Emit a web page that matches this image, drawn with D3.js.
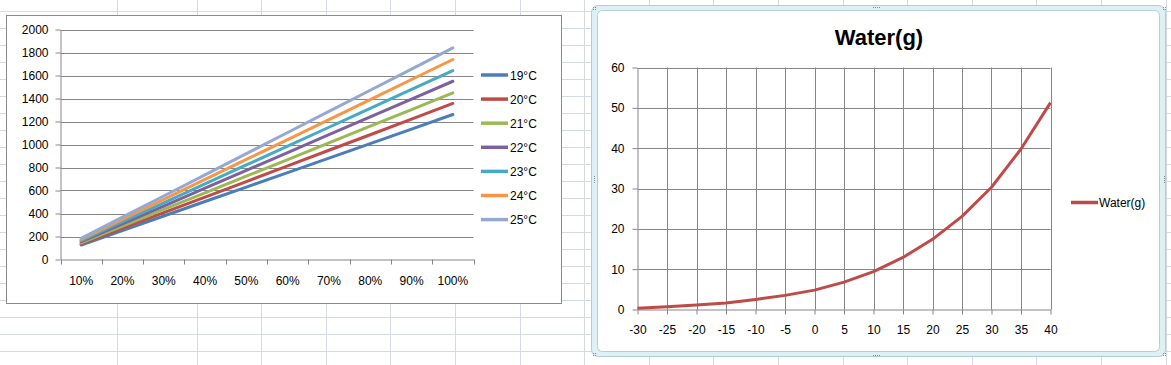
<!DOCTYPE html>
<html>
<head>
<meta charset="utf-8">
<script src="https://cdn.jsdelivr.net/npm/d3@7"></script>
<style>
  body { margin: 0; background: #fff; }
  text { font-family: "Liberation Sans", Arial, sans-serif; fill: #000; }
  .domain { stroke: #868686; }
  .tick line { stroke: #868686; }
</style>
</head>
<body>
<div id="container"></div>
<script>
/* DATA */
const pctLabels = ["10%", "20%", "30%", "40%", "50%", "60%", "70%", "80%", "90%", "100%"];
const tempNames = ["19°C", "20°C", "21°C", "22°C", "23°C", "24°C", "25°C"];
const s19 = [126, 252, 378, 504, 630, 756, 882, 1008, 1134, 1261];
const s20 = [136, 271, 407, 543, 678, 814, 950, 1085, 1221, 1357];
const s21 = [145, 290, 435, 580, 725, 869, 1014, 1159, 1304, 1449];
const s22 = [155, 310, 465, 620, 775, 930, 1085, 1240, 1395, 1550];
const s23 = [164, 329, 493, 657, 822, 986, 1150, 1314, 1479, 1643];
const s24 = [174, 348, 522, 696, 870, 1043, 1217, 1391, 1565, 1739];
const s25 = [184, 368, 552, 736, 920, 1104, 1288, 1472, 1656, 1840];
const leftTicks = [0, 200, 400, 600, 800, 1000, 1200, 1400, 1600, 1800, 2000];

const waterTemp = [-30, -25, -20, -15, -10, -5, 0, 5, 10, 15, 20, 25, 30, 35, 40];
const waterG = [0.3, 0.7, 1.1, 1.6, 2.5, 3.5, 4.8, 6.8, 9.4, 12.9, 17.4, 23.1, 30.3, 39.8, 51.3];
const rightTicks = [0, 10, 20, 30, 40, 50, 60];

const colors = ["#4A7EBB", "#BE4B48", "#98B954", "#7D60A0", "#46AAC5", "#F79646", "#95A8D2"];
const series = [s19, s20, s21, s22, s23, s24, s25];

/* CONSTANTS */
const W = 1171, H = 365;
const gridColor = "#868686";
const plain = d => String(d);

const svg = d3.select("#container")
  .append("svg")
  .attr("width", W)
  .attr("height", H)

/* SPREADSHEET BACKGROUND */
const sheet = svg.append("g").attr("class", "sheet")
d3.range(0, 21).forEach(k => {
  sheet.append("line")
    .attr("x1", 0).attr("x2", W)
    .attr("y1", 11.5 + 17 * k).attr("y2", 11.5 + 17 * k)
    .attr("stroke", "#D5D9E0")
})
const colX = [116.5].concat(d3.range(0, 16).map(k => 196.5 + 64.6 * k))
colX.forEach(x => {
  sheet.append("line")
    .attr("x1", Math.round(x) + 0.5).attr("x2", Math.round(x) + 0.5)
    .attr("y1", 0).attr("y2", H)
    .attr("stroke", "#D5D9E0")
})

/*************/
/* LEFT CHART */
/*************/
const left = svg.append("g").attr("class", "left-chart")

left.append("rect")
  .attr("x", 6.5).attr("y", 15.5)
  .attr("width", 555).attr("height", 288)
  .attr("fill", "#fff")
  .attr("stroke", "#8A8A8A")

const lx = d3.scaleBand()
  .domain(pctLabels)
  .range([60.5, 473.5])

const ly = d3.scaleLinear()
  .domain([0, 2000])
  .range([259.5, 29.5])

// gridlines
left.selectAll(".hgrid")
  .data(leftTicks.slice(1))
  .join("line")
  .attr("class", "hgrid")
  .attr("x1", 60.5).attr("x2", 473.5)
  .attr("y1", d => Math.round(ly(d)) + 0.5)
  .attr("y2", d => Math.round(ly(d)) + 0.5)
  .attr("stroke", gridColor)

// Y-axis
left.append("g")
  .attr("class", "y-axis")
  .attr("transform", "translate(60.5,0)")
  .call(d3.axisLeft(ly).tickValues(leftTicks).tickFormat(plain).tickSize(5).tickPadding(7).tickSizeOuter(0))
  .call(g => g.selectAll("text").style("font-size", "12px"))

// X-axis: labels centered in bands, tick marks between categories
left.append("g")
  .attr("class", "x-axis")
  .attr("transform", "translate(0,259.5)")
  .call(d3.axisBottom(lx).tickSize(0).tickPadding(17).tickSizeOuter(0))
  .call(g => g.selectAll("text").style("font-size", "12px"))

left.selectAll(".xtick")
  .data(pctLabels.map(d => lx(d)).concat([lx.range()[1]]))
  .join("line")
  .attr("class", "xtick")
  .attr("x1", d => Math.round(d) + 0.5).attr("x2", d => Math.round(d) + 0.5)
  .attr("y1", 259.5).attr("y2", 264.5)
  .attr("stroke", gridColor)

// lines
const leftLine = d3.line()
  .x((d, i) => lx(pctLabels[i]) + lx.bandwidth() / 2)
  .y(d => ly(d))

left.selectAll(".series")
  .data(series)
  .join("path")
  .attr("class", "series")
  .attr("d", d => leftLine(d))
  .attr("fill", "none")
  .attr("stroke", (d, i) => colors[i])
  .attr("stroke-width", 3)
  .attr("stroke-linecap", "round")

// legend
const leg = left.selectAll(".leg")
  .data(tempNames)
  .join("g")
  .attr("class", "leg")
  .attr("transform", (d, i) => `translate(481,${75 + i * 24.1})`)

leg.append("line")
  .attr("x1", 0).attr("x2", 27)
  .attr("stroke", (d, i) => colors[i])
  .attr("stroke-width", 3.5)

leg.append("text")
  .attr("x", 29).attr("y", 4.5)
  .style("font-size", "12px")
  .text(d => d)

/**************/
/* RIGHT CHART */
/**************/
const right = svg.append("g").attr("class", "right-chart")

// selection frame
right.append("rect")
  .attr("x", 591.5).attr("y", 5.5)
  .attr("width", 574).attr("height", 351)
  .attr("rx", 7)
  .attr("fill", "#DDF0F4")
  .attr("stroke", "#B3CCD5")

right.append("rect")
  .attr("x", 597.5).attr("y", 10.5)
  .attr("width", 562).attr("height", 341)
  .attr("rx", 5)
  .attr("fill", "#fff")
  .attr("stroke", "#B7CFD8")

// handle dots
const dotPts = []
;[[593, 7], [1163, 7], [593, 353], [1163, 353]].forEach(p => {
  dotPts.push([p[0], p[1]], [p[0] + 2, p[1]], [p[0], p[1] + 2], [p[0] + 2, p[1] + 2])
})
d3.range(4).forEach(k => {
  dotPts.push([873 + 2 * k, 7], [873 + 2 * k, 355], [594, 176 + 2 * k], [1164, 176 + 2 * k])
})
right.selectAll(".handle")
  .data(dotPts)
  .join("rect")
  .attr("class", "handle")
  .attr("x", d => d[0]).attr("y", d => d[1])
  .attr("width", 1).attr("height", 1)
  .attr("fill", "#7F8C93")

const rx = d3.scaleLinear()
  .domain([-30, 40])
  .range([637.5, 1050.5])

const ry = d3.scaleLinear()
  .domain([0, 60])
  .range([309.5, 67.5])

// gridlines
right.selectAll(".vgrid")
  .data(waterTemp.slice(1))
  .join("line")
  .attr("class", "vgrid")
  .attr("x1", d => Math.round(rx(d)) + 0.5).attr("x2", d => Math.round(rx(d)) + 0.5)
  .attr("y1", 67.5).attr("y2", 309.5)
  .attr("stroke", gridColor)

right.selectAll(".hgrid")
  .data(rightTicks.slice(1))
  .join("line")
  .attr("class", "hgrid")
  .attr("x1", 637.5).attr("x2", 1050.5)
  .attr("y1", d => Math.round(ry(d)) + 0.5).attr("y2", d => Math.round(ry(d)) + 0.5)
  .attr("stroke", gridColor)

right.append("g")
  .attr("class", "y-axis")
  .attr("transform", "translate(637.5,0)")
  .call(d3.axisLeft(ry).tickValues(rightTicks).tickFormat(plain).tickSize(5).tickPadding(8).tickSizeOuter(0))
  .call(g => g.selectAll("text").style("font-size", "12px"))

right.append("g")
  .attr("class", "x-axis")
  .attr("transform", "translate(0,309.5)")
  .call(d3.axisBottom(rx).tickValues(waterTemp).tickFormat(plain).tickSize(5).tickPadding(11).tickSizeOuter(0))
  .call(g => g.selectAll("text").style("font-size", "12px"))

// line
right.append("path")
  .datum(waterG)
  .attr("d", d3.line().x((d, i) => rx(waterTemp[i])).y(d => ry(d)))
  .attr("fill", "none")
  .attr("stroke", "#BE4B48")
  .attr("stroke-width", 3)
  .attr("stroke-linejoin", "round")

// title
right.append("text")
  .attr("x", 879).attr("y", 45)
  .attr("text-anchor", "middle")
  .style("font-size", "22px")
  .style("font-weight", "bold")
  .text("Water(g)")

// legend
right.append("line")
  .attr("x1", 1071).attr("x2", 1098)
  .attr("y1", 202.5).attr("y2", 202.5)
  .attr("stroke", "#BE4B48")
  .attr("stroke-width", 3.5)

right.append("text")
  .attr("x", 1099).attr("y", 207)
  .style("font-size", "12px")
  .text("Water(g)")
</script>
</body>
</html>
